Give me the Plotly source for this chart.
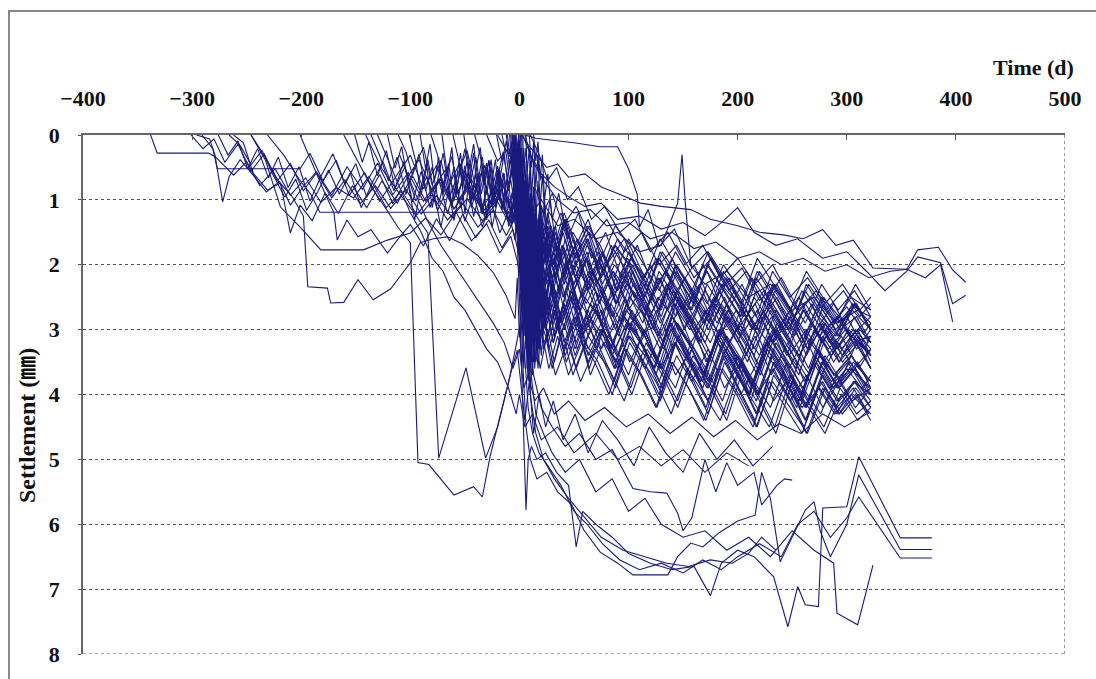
import plotly.graph_objects as go

# ---- data: (day, settlement mm) pairs per monitoring point ----
P01 = [(-338,0),(-332,0.28),(-285,0.28),(-279,0.33),(-262,0.62),(-250,0.41),(-238,0.78),(-224,0.52),(-210,0.93),(-196,0.66),(-182,1.04),(-168,0.81),(-152,0.97),(-138,0.64),(-122,1.12),(-108,0.86),(-94,1.23),(-80,0.92),(-66,1.31),(-52,1.05),(-38,1.42),(-24,1.16),(-12,1.55),(-4,1.28),(-2,1.0),(0,1.7),(1,1.1),(3,2.3),(5,1.5),(7,2.8),(9,1.8),(11,2.5),(13,1.7),(16,2.6),(19,1.9),(24,2.2),(31,1.8),(40,2.5),(52,2.0),(61,2.3),(75,2.9),(88,2.2),(99,2.6),(113,3.1),(127,2.5),(140,2.8),(156,3.4),(170,2.7),(187,3.2),(201,3.6),(215,2.9),(232,3.3),(248,3.9),(263,3.1),(279,3.5),(294,3.8),(309,3.2),(322,3.6)]
P02 = [(-296,0),(-284,0.06),(-279,0.31),(-272,1.03),(-266,0.64),(-256,0.38),(-244,0.62),(-232,0.88),(-220,0.72),(-210,1.08),(-198,0.79),(-186,0.57),(-172,0.93),(-158,0.49),(-144,0.84),(-130,0.43),(-116,0.92),(-102,0.58),(-88,1.02),(-74,0.69),(-60,1.14),(-46,0.77),(-32,1.21),(-18,0.96),(-8,1.35),(-3,0.8),(-1,1.5),(1,0.9),(2,2.1),(4,1.3),(6,2.9),(8,1.7),(10,3.2),(12,2.0),(15,2.8),(18,2.1),(21,2.9),(23,2.6),(29,2.1),(38,2.9),(47,2.4),(60,2.7),(71,3.3),(84,2.6),(97,3.0),(112,2.7),(126,3.5),(139,2.9),(153,3.3),(168,3.8),(182,3.0),(197,3.4),(211,4.0),(226,3.2),(243,3.6),(258,4.1),(271,3.4),(288,3.9),(303,3.5),(320,3.9)]
P03 = [(-291,0),(-281,0.21),(-277,0.52),(-201,0.52),(-192,0.28),(-180,0.71),(-168,0.39),(-156,0.93),(-142,0.58),(-128,1.02),(-114,0.66),(-100,0.31),(-88,0.83),(-76,0.47),(-62,1.04),(-48,0.61),(-34,1.13),(-22,0.79),(-10,1.32),(-4,1.02),(-2,0.7),(0,1.5),(2,0.9),(3,1.9),(5,1.2),(7,2.4),(9,1.4),(12,2.6),(14,1.6),(17,2.2),(20,1.5),(24,1.6),(30,2.2),(39,1.7),(50,2.4),(62,1.9),(73,2.3),(85,2.8),(98,2.1),(110,2.5),(123,3.0),(137,2.3),(151,2.7),(166,3.2),(180,2.6),(194,3.0),(209,3.5),(224,2.8),(240,3.2),(256,3.7),(270,3.0),(286,3.4),(302,3.0),(322,3.4)]
P04 = [(-262,0),(-253,0.12),(-244,0.59),(-231,0.85),(-219,0.74),(-210,1.51),(-201,1.08),(-190,1.32),(-178,0.89),(-166,1.21),(-153,0.78),(-140,1.12),(-126,0.71),(-112,1.05),(-98,0.63),(-86,1.02),(-72,0.68),(-60,1.14),(-46,0.81),(-32,1.23),(-20,0.94),(-8,1.36),(-3,1.12),(-1,1.7),(1,1.0),(2,2.4),(4,1.6),(6,3.1),(8,2.0),(10,3.5),(12,2.3),(15,3.1),(18,2.2),(21,2.9),(25,2.4),(32,3.1),(41,2.6),(53,3.3),(64,2.8),(77,3.1),(90,3.6),(103,2.9),(118,3.4),(131,3.9),(145,3.1),(159,3.6),(173,4.1),(188,3.3),(203,3.8),(217,4.3),(233,3.5),(247,3.9),(262,4.4),(277,3.7),(291,4.1),(307,3.8),(322,4.2)]
P05 = [(-246,0),(-233,0.38),(-219,1.11),(-201,1.42),(-182,1.77),(-143,1.77),(-121,1.62),(-100,1.51),(-86,1.28),(-72,1.54),(-58,1.19),(-44,1.63),(-30,1.37),(-18,1.82),(-8,1.56),(-2,1.94),(0,2.12),(1,1.4),(3,2.8),(5,1.9),(7,3.4),(9,2.3),(11,3.2),(14,2.4),(17,3.3),(20,2.6),(24,3.0),(30,2.6),(40,3.3),(51,2.8),(63,3.5),(75,3.0),(86,3.2),(100,3.7),(114,3.0),(128,3.5),(143,3.9),(157,3.2),(171,3.6),(186,4.1),(200,3.4),(215,3.8),(230,4.2),(245,3.5),(260,3.9),(276,4.3),(291,3.7),(305,4.1),(322,3.9)]
P06 = [(-201,0),(-189,0.48),(-178,0.91),(-170,1.2),(-167,1.62),(-158,1.31),(-148,1.57),(-136,1.46),(-121,1.82),(-112,1.62),(-100,1.38),(-88,1.71),(-76,1.29),(-64,1.63),(-52,1.22),(-40,1.58),(-28,1.31),(-16,1.74),(-6,1.45),(0,1.88),(1,1.2),(3,2.6),(4,1.7),(6,3.2),(8,2.0),(10,2.9),(13,2.1),(16,2.9),(19,2.3),(23,2.7),(28,2.2),(37,2.9),(48,2.4),(58,3.0),(70,2.6),(83,3.3),(96,2.8),(109,3.1),(124,3.6),(138,2.9),(152,3.4),(166,3.8),(181,3.1),(195,3.5),(210,4.0),(224,3.3),(239,3.7),(254,4.2),(269,3.5),(284,3.9),(300,3.6),(318,4.0)]
P07 = [(-231,0),(-216,0.31),(-202,0.68),(-191,0.92),(-183,1.19),(-5,1.19),(0,1.52),(1,0.8),(3,1.9),(5,1.0),(7,2.3),(9,1.3),(11,2.1),(14,1.4),(17,2.0),(20,1.5),(24,1.9),(31,1.5),(40,2.1),(49,1.6),(61,2.2),(72,1.8),(86,2.4),(99,1.9),(113,2.3),(128,2.7),(141,2.1),(156,2.5),(170,2.9),(185,2.3),(200,2.6),(214,3.0),(229,2.4),(244,2.8),(259,3.2),(274,2.6),(290,3.0),(305,2.7),(322,3.0)]
P08 = [(-246,0),(-233,0.34),(-221,0.71),(-209,0.93),(-198,1.25),(-194,2.34),(-176,2.36),(-173,2.59),(-161,2.58),(-148,2.23),(-134,2.54),(-118,2.37),(-100,1.97),(-91,1.66),(-79,1.6),(-66,1.57),(-52,1.68),(-38,1.86),(-24,2.12),(-12,2.48),(-4,2.83),(-2,2.2),(0,3.12),(2,2.5),(4,3.6),(7,2.8),(10,3.9),(14,3.0),(19,3.6),(25,3.1),(33,3.7),(44,3.2),(56,3.8),(69,3.3),(82,3.6),(96,4.1),(110,3.4),(125,3.8),(139,4.3),(154,3.6),(169,4.0),(184,4.4),(199,3.7),(214,4.1),(229,4.5),(244,3.8),(259,4.2),(275,3.9),(291,4.3),(306,3.8),(322,4.0)]
P09 = [(-161,0),(-149,0.38),(-136,0.79),(-123,1.12),(-111,1.43),(-100,1.66),(-93,5.05),(-83,5.08),(-60,5.55),(-42,5.42),(-34,5.58),(-27,4.96),(-8,3.67),(-2,3.32),(2,3.9),(5,4.4),(9,3.8),(13,4.6),(18,4.0),(24,4.5),(31,4.1),(40,4.7),(51,4.3),(63,4.9),(76,4.4),(90,4.7),(105,5.1),(119,4.5),(134,4.9),(150,5.2),(165,4.6),(181,5.0),(197,4.7),(214,5.1),(232,4.8)]
P10 = [(-141,0),(-126,0.52),(-111,0.88),(-96,1.21),(-84,1.51),(-74,4.98),(-49,3.59),(-31,4.98),(-20,4.5),(-10,3.82),(-3,3.24),(0,2.96),(2,3.5),(5,2.8),(8,3.8),(11,3.0),(15,3.5),(20,3.0),(27,3.6),(35,3.1),(45,3.7),(57,3.2),(69,3.5),(82,4.0),(96,3.3),(111,3.7),(125,4.2),(140,3.5),(155,3.9),(171,4.4),(186,3.6),(201,4.0),(217,4.5),(232,3.8),(248,4.2),(264,4.6),(280,3.9),(296,4.3),(310,4.0),(320,4.3)]
P11 = [(-301,0),(-290,0.21),(-280,0.06),(-270,0.42),(-258,0.14),(-246,0.56),(-234,0.29),(-222,0.71),(-210,0.44),(-198,0.86),(-186,0.58),(-172,0.97),(-160,0.69),(-146,1.06),(-132,0.78),(-118,1.13),(-104,0.84),(-90,1.22),(-76,0.93),(-62,1.27),(-48,0.98),(-34,1.32),(-20,1.03),(-8,1.41),(-2,1.14),(0,1.68),(1,1.0),(3,2.4),(5,1.4),(7,2.8),(9,1.7),(11,2.5),(14,1.6),(17,2.4),(19,1.8),(22,2.3),(27,1.8),(36,2.4),(46,1.9),(57,2.5),(68,2.1),(81,2.7),(94,2.2),(107,2.5),(121,3.0),(135,2.3),(149,2.7),(164,3.2),(178,2.5),(193,2.9),(208,3.4),(223,2.7),(238,3.1),(253,3.6),(268,2.9),(283,3.3),(299,3.0),(322,3.4)]
P12 = [(-276,0),(-267,0.31),(-258,0.09),(-249,0.52),(-240,0.21),(-230,0.66),(-221,0.34),(-212,0.81),(-202,0.49),(-192,1.02),(-182,0.64),(-171,0.29),(-160,0.76),(-150,0.44),(-140,0.96),(-128,0.61),(-116,1.06),(-104,0.69),(-92,0.38),(-80,0.86),(-68,0.54),(-56,1.01),(-44,0.68),(-32,1.16),(-20,0.84),(-10,1.31),(-4,1.06),(0,1.38),(1,0.7),(2,1.8),(4,0.9),(6,2.2),(8,1.2),(10,2.6),(12,1.5),(15,2.3),(18,1.5),(21,2.1),(23,1.9),(29,1.4),(38,2.0),(49,1.5),(59,1.8),(71,2.3),(84,1.7),(98,2.1),(111,2.5),(125,1.9),(140,2.3),(154,2.7),(168,2.0),(183,2.4),(198,2.9),(213,2.2),(228,2.6),(243,3.0),(259,2.4),(274,2.8),(290,3.1),(305,2.6),(322,2.9)]
P13 = [(-266,0),(-256,0.16),(-246,0.46),(-236,0.24),(-226,0.61),(-215,0.96),(-205,0.68),(-195,1.16),(-185,0.88),(-175,0.54),(-165,0.91),(-155,0.58),(-145,1.12),(-135,0.74),(-125,0.41),(-115,0.86),(-105,0.49),(-95,1.02),(-85,0.64),(-75,1.16),(-65,0.79),(-55,0.44),(-45,0.92),(-35,0.59),(-25,1.11),(-15,0.78),(-6,1.24),(0,1.58),(2,0.9),(3,2.2),(5,1.3),(7,2.9),(9,1.8),(11,3.1),(14,2.0),(17,2.9),(20,2.2),(24,2.8),(30,2.3),(39,2.9),(50,2.4),(61,3.0),(72,2.6),(85,3.2),(98,2.7),(112,3.0),(126,3.5),(140,2.8),(155,3.2),(170,3.7),(184,3.0),(198,3.4),(213,3.9),(228,3.1),(243,3.5),(258,4.0),(273,3.3),(288,3.7),(304,3.4),(320,3.8)]

M01 = [(-151,0),(-144,0.42),(-138,0.11),(-130,0.63),(-122,0.24),(-114,0.82),(-106,0.41),(-98,1.03),(-90,0.56),(-82,1.12),(-74,0.68),(-66,1.21),(-58,0.79),(-50,1.33),(-42,0.91),(-34,1.42),(-26,1.02),(-18,1.51),(-10,1.18),(-4,1.62),(-2,1.1),(0,1.91),(1,1.2),(3,2.7),(5,1.8),(7,3.3),(9,2.1),(11,3.0),(14,2.2),(17,3.1),(20,2.4),(24,2.9),(30,2.4),(38,3.1),(49,2.5),(60,3.2),(72,2.7),(85,3.4),(98,2.9),(111,3.2),(125,3.7),(139,3.0),(153,3.4),(168,3.9),(182,3.2),(197,3.6),(212,4.1),(227,3.3),(242,3.7),(257,4.2),(272,3.5),(287,3.9),(303,3.6),(322,3.9)]
M02 = [(-136,0),(-128,0.32),(-120,0.71),(-112,0.34),(-104,0.92),(-96,0.48),(-88,0.19),(-80,0.77),(-72,0.39),(-64,0.96),(-56,0.58),(-48,0.24),(-40,0.82),(-32,0.47),(-24,1.01),(-16,0.68),(-8,1.17),(-3,0.88),(-1,0.5),(0,1.22),(2,0.6),(3,1.6),(5,0.9),(7,2.0),(9,1.1),(11,2.3),(13,1.3),(16,2.0),(19,1.3),(22,1.8),(26,1.4),(33,1.9),(42,1.3),(53,1.8),(64,1.5),(77,2.1),(90,1.6),(103,1.9),(117,2.4),(131,1.8),(146,2.2),(160,2.6),(175,1.9),(190,2.3),(205,2.8),(220,2.1),(235,2.5),(250,2.9),(265,2.3),(281,2.7),(297,2.4),(312,2.8),(322,2.6)]
M03 = [(-121,0),(-114,0.51),(-108,0.18),(-102,0.72),(-96,1.31),(-90,0.79),(-84,0.38),(-78,0.91),(-72,1.42),(-66,0.94),(-60,0.49),(-54,1.12),(-48,0.68),(-42,1.26),(-36,0.84),(-30,0.43),(-24,1.02),(-18,0.63),(-12,1.21),(-6,0.88),(-2,1.36),(0,1.52),(1,0.9),(2,2.2),(4,1.5),(6,3.0),(8,1.9),(10,3.3),(12,2.2),(15,3.0),(18,2.3),(21,3.1),(25,2.6),(31,3.2),(40,2.7),(51,3.4),(62,2.9),(74,3.3),(87,3.8),(100,3.1),(114,3.5),(128,4.0),(142,3.2),(157,3.7),(171,4.2),(186,3.4),(201,3.9),(216,4.4),(231,3.6),(246,4.0),(261,4.5),(276,3.8),(291,4.2),(306,3.9),(320,4.3)]
M04 = [(-111,0),(-104,0.26),(-98,0.62),(-92,0.29),(-86,0.86),(-80,0.49),(-74,1.06),(-68,0.64),(-62,0.33),(-56,0.91),(-50,0.54),(-44,1.12),(-38,0.74),(-32,1.26),(-26,0.89),(-20,0.48),(-14,1.01),(-8,0.69),(-3,1.22),(-1,0.7),(0,1.41),(2,0.9),(3,2.0),(5,1.3),(7,2.6),(9,1.6),(11,2.9),(13,1.9),(16,2.7),(19,1.9),(22,2.5),(26,2.1),(33,2.6),(43,2.0),(54,2.7),(65,2.2),(78,2.5),(91,3.0),(104,2.3),(118,2.7),(132,3.2),(146,2.5),(161,2.9),(176,3.4),(191,2.7),(206,3.1),(221,3.6),(236,2.9),(251,3.3),(266,3.7),(281,3.0),(296,3.4),(311,3.1),(322,3.5)]
M05 = [(-101,0),(-95,0.41),(-90,0.92),(-85,0.48),(-80,1.12),(-75,0.69),(-70,0.28),(-65,0.81),(-60,1.32),(-55,0.88),(-50,0.47),(-45,1.02),(-40,0.59),(-35,1.21),(-30,0.79),(-25,1.42),(-20,0.98),(-15,0.58),(-10,1.12),(-5,0.77),(-2,1.31),(0,0.98),(1,1.6),(2,0.8),(4,2.1),(6,1.2),(8,2.5),(10,1.5),(12,2.3),(15,1.5),(18,2.2),(21,1.6),(25,1.9),(31,2.4),(40,1.8),(50,2.3),(61,1.9),(73,2.6),(86,2.1),(99,2.4),(113,2.9),(127,2.2),(141,2.6),(156,3.0),(170,2.4),(185,2.8),(200,3.2),(215,2.5),(230,2.9),(245,3.4),(260,2.7),(275,3.1),(291,2.8),(306,3.2),(322,3.1)]
M06 = [(-91,0),(-86,0.52),(-82,0.14),(-78,0.71),(-74,0.34),(-70,0.92),(-66,0.49),(-62,1.12),(-58,0.69),(-54,0.28),(-50,0.86),(-46,0.44),(-42,1.02),(-38,0.59),(-34,1.22),(-30,0.79),(-26,0.38),(-22,0.96),(-18,0.54),(-14,1.12),(-10,0.74),(-6,1.32),(-3,0.94),(-1,1.6),(0,1.0),(2,2.4),(3,1.5),(5,3.1),(7,2.1),(9,3.5),(11,2.5),(13,3.3),(16,2.5),(19,3.2),(22,2.7),(26,3.2),(33,2.8),(42,3.4),(53,2.9),(64,3.6),(76,3.0),(89,3.4),(102,3.9),(116,3.2),(130,3.6),(145,4.1),(159,3.4),(174,3.8),(189,4.3),(204,3.5),(219,4.0),(234,4.5),(249,3.7),(264,4.1),(279,4.5),(294,3.9),(309,4.3),(322,4.1)]
M07 = [(-81,0),(-75,0.31),(-70,0.82),(-65,0.44),(-60,1.02),(-55,0.59),(-50,0.21),(-45,0.72),(-40,0.34),(-35,0.91),(-30,0.49),(-25,1.06),(-20,0.64),(-15,0.26),(-10,0.76),(-5,0.41),(-2,0.92),(0,0.61),(1,1.2),(2,0.5),(4,1.5),(5,0.8),(7,1.9),(9,1.0),(11,1.8),(13,1.1),(16,1.7),(19,1.1),(22,1.6),(26,1.3),(32,1.8),(41,1.3),(51,1.9),(62,1.4),(74,1.7),(87,2.2),(100,1.6),(114,2.0),(128,2.4),(143,1.8),(157,2.2),(172,2.6),(187,2.0),(202,2.4),(217,2.8),(232,2.1),(247,2.5),(262,2.9),(277,2.3),(292,2.7),(307,2.4),(322,2.8)]
M08 = [(-71,0),(-66,0.62),(-62,0.19),(-58,0.92),(-54,0.44),(-50,1.22),(-46,0.69),(-42,0.28),(-38,0.96),(-34,0.49),(-30,1.31),(-26,0.79),(-22,0.38),(-18,1.02),(-14,0.59),(-10,1.41),(-6,0.88),(-3,1.52),(-1,0.9),(0,1.18),(1,2.0),(3,1.3),(4,2.7),(6,1.8),(8,3.2),(10,2.2),(12,3.0),(14,2.1),(17,2.9),(20,2.2),(24,2.8),(29,2.4),(37,3.0),(47,2.5),(58,3.1),(70,2.7),(83,3.3),(96,2.8),(109,3.1),(123,3.6),(137,2.9),(152,3.3),(166,3.8),(181,3.1),(196,3.5),(211,4.0),(226,3.2),(241,3.6),(256,4.1),(271,3.4),(286,3.8),(301,3.5),(315,3.9),(322,3.7)]
M09 = [(-61,0),(-56,0.36),(-52,0.82),(-48,0.39),(-44,1.02),(-40,0.54),(-36,0.19),(-32,0.76),(-28,0.39),(-24,0.96),(-20,0.58),(-16,1.16),(-12,0.74),(-8,0.34),(-4,0.91),(-1,0.59),(0,1.02),(1,0.5),(2,1.5),(4,0.8),(6,1.9),(8,1.1),(10,2.2),(12,1.3),(15,2.0),(18,1.3),(21,1.9),(25,1.6),(31,2.1),(40,1.5),(51,2.2),(62,1.7),(74,2.0),(87,2.5),(100,1.8),(114,2.2),(128,2.7),(143,2.0),(157,2.4),(172,2.8),(187,2.1),(202,2.5),(217,3.0),(232,2.3),(247,2.7),(262,3.1),(277,2.5),(292,2.9),(307,2.6),(322,3.0)]
M10 = [(-51,0),(-46,0.52),(-42,0.14),(-38,0.72),(-34,0.34),(-30,0.92),(-26,0.49),(-22,1.12),(-18,0.69),(-14,0.29),(-10,0.86),(-6,0.49),(-3,1.02),(-1,0.6),(0,0.78),(1,1.5),(3,0.9),(4,2.1),(6,1.4),(8,2.6),(10,1.7),(12,2.9),(14,2.0),(17,2.7),(20,2.0),(23,2.6),(27,2.2),(34,2.7),(43,2.1),(54,2.8),(65,2.3),(78,2.6),(91,3.1),(104,2.4),(118,2.8),(132,3.3),(147,2.6),(161,3.0),(176,3.5),(191,2.8),(206,3.2),(221,3.7),(236,3.0),(251,3.4),(266,3.8),(281,3.1),(296,3.5),(311,3.2),(322,3.6)]
M11 = [(-41,0),(-36,0.31),(-32,0.77),(-28,0.39),(-24,0.96),(-20,0.54),(-16,1.12),(-12,0.69),(-8,1.27),(-4,0.84),(-1,1.32),(0,1.62),(1,2.4),(2,1.6),(4,3.1),(5,2.2),(7,3.6),(9,2.6),(11,3.4),(13,2.5),(16,3.4),(19,2.7),(22,3.3),(26,3.0),(32,3.5),(41,2.9),(52,3.6),(63,3.1),(75,3.4),(88,3.9),(101,3.2),(115,3.6),(129,4.1),(144,3.4),(158,3.8),(173,4.3),(188,3.5),(203,4.0),(218,4.5),(233,3.7),(248,4.1),(263,4.6),(278,3.9),(293,4.3),(308,4.0),(322,4.4)]

L01 = [(-21,0),(-16,0.41),(-12,0.09),(-8,0.62),(-4,0.28),(-2,0.9),(0,0.4),(1,1.1),(3,0.6),(4,1.6),(6,0.9),(8,2.1),(10,1.3),(12,2.4),(15,1.6),(18,2.5),(21,1.9),(25,2.3),(31,1.9),(40,2.5),(50,2.0),(61,2.6),(73,2.2),(86,2.8),(99,2.3),(113,2.6),(127,3.1),(141,2.4),(156,2.8),(170,3.2),(185,2.6),(200,3.0),(215,3.4),(230,2.7),(245,3.1),(260,3.5),(275,2.9),(290,3.3),(306,3.0),(322,3.4)]
L02 = [(-16,0),(-12,0.31),(-9,0.72),(-6,0.34),(-4,1.1),(-2,0.6),(0,1.5),(1,0.8),(3,2.2),(4,1.4),(6,2.9),(8,1.9),(10,3.3),(12,2.3),(15,3.1),(18,2.4),(21,3.0),(25,2.7),(31,3.2),(40,2.6),(51,3.3),(62,2.8),(74,3.1),(87,3.6),(100,2.9),(114,3.3),(128,3.8),(143,3.1),(157,3.5),(172,3.9),(187,3.2),(202,3.6),(217,4.1),(232,3.4),(247,3.8),(262,4.2),(277,3.5),(292,3.9),(307,3.6),(320,4.0)]
L03 = [(-11,0),(-9,0.3),(-7,0.1),(-5,0.6),(-3,0.2),(-1,0.9),(0,0.4),(2,1.3),(3,0.6),(5,1.7),(7,0.9),(9,2.0),(11,1.2),(13,2.2),(16,1.4),(19,2.1),(22,1.5),(26,1.9),(33,1.5),(42,2.1),(53,1.6),(64,2.2),(76,1.8),(89,2.4),(102,1.9),(116,2.2),(130,2.7),(144,2.0),(159,2.4),(174,2.8),(189,2.2),(204,2.6),(219,3.0),(234,2.3),(249,2.7),(264,3.1),(279,2.5),(294,2.9),(309,2.6),(322,3.0)]
L04 = [(-9,0),(-7,0.5),(-5,0.2),(-3,0.8),(-1,0.3),(0,1.2),(1,0.6),(3,1.8),(4,1.1),(6,2.5),(8,1.5),(10,2.9),(12,1.9),(14,2.8),(17,2.0),(20,2.7),(24,2.4),(30,2.9),(39,2.3),(49,3.0),(60,2.5),(72,2.8),(85,3.3),(98,2.6),(112,3.0),(126,3.5),(140,2.8),(155,3.2),(169,3.7),(184,3.0),(199,3.4),(214,3.9),(229,3.1),(244,3.5),(259,4.0),(274,3.3),(289,3.7),(304,3.4),(322,3.8)]
L05 = [(-7,0),(-5,0.3),(-3,0.7),(-1,0.2),(0,0.9),(2,0.4),(3,1.3),(5,0.7),(7,1.7),(9,1.0),(11,1.9),(13,1.2),(16,2.0),(19,1.3),(22,1.8),(26,1.5),(32,2.0),(41,1.4),(52,1.9),(63,1.5),(75,2.2),(88,1.7),(101,2.0),(115,2.5),(129,1.8),(143,2.2),(158,2.7),(173,2.0),(188,2.4),(203,2.8),(218,2.1),(233,2.5),(248,3.0),(263,2.3),(278,2.7),(293,3.1),(308,2.6),(322,3.0)]
L06 = [(-6,0),(-4,0.6),(-2,0.2),(-1,1.0),(0,0.5),(1,1.7),(2,1.0),(4,2.6),(5,1.6),(7,3.2),(9,2.2),(11,3.5),(13,2.5),(16,3.3),(19,2.6),(22,3.2),(26,3.1),(32,2.7),(41,3.3),(52,2.8),(63,3.4),(75,3.0),(88,3.6),(101,3.1),(115,3.4),(129,3.9),(143,3.2),(158,3.6),(173,4.1),(188,3.4),(203,3.8),(218,4.3),(233,3.5),(248,3.9),(263,4.4),(278,3.7),(293,4.1),(308,3.8),(322,4.1)]
L07 = [(-5,0),(-3,0.3),(-1,0.05),(0,0.5),(2,0.2),(3,0.9),(5,0.4),(7,1.3),(9,0.6),(11,1.5),(13,0.8),(16,1.6),(19,1.0),(22,1.5),(26,1.2),(32,1.7),(41,1.2),(52,1.7),(63,1.3),(75,1.9),(88,1.4),(101,1.7),(115,2.2),(129,1.6),(143,2.0),(158,2.4),(173,1.8),(188,2.2),(203,2.6),(218,1.9),(233,2.3),(248,2.7),(263,2.1),(278,2.5),(293,2.8),(308,2.3),(322,2.7)]
L08 = [(-4,0),(-2,0.7),(-1,0.3),(0,1.3),(1,0.8),(2,2.1),(3,1.4),(5,2.9),(6,2.0),(8,3.6),(10,2.6),(12,3.7),(14,2.8),(17,3.6),(20,2.9),(24,3.1),(30,3.6),(39,3.0),(49,3.7),(60,3.2),(72,3.5),(85,4.0),(98,3.3),(112,3.7),(126,4.2),(140,3.5),(155,3.9),(169,4.4),(184,3.6),(199,4.0),(214,4.5),(229,3.8),(244,4.2),(259,4.6),(274,3.9),(289,4.3),(304,4.0),(322,4.3)]
L09 = [(-3,0),(-1,0.4),(0,0.1),(1,0.8),(2,0.3),(4,1.3),(5,0.7),(7,1.7),(9,1.0),(11,2.0),(13,1.3),(16,2.1),(19,1.4),(22,2.0),(26,1.7),(33,2.2),(42,1.6),(53,2.3),(64,1.8),(76,2.1),(89,2.6),(102,1.9),(116,2.3),(130,2.8),(144,2.1),(159,2.5),(174,2.9),(189,2.3),(204,2.7),(219,3.1),(234,2.4),(249,2.8),(264,3.3),(279,2.6),(294,3.0),(309,2.8),(322,3.2)]
L10 = [(-1,0),(0,0.6),(1,0.2),(2,1.2),(3,0.6),(5,1.9),(6,1.1),(8,2.6),(10,1.7),(12,3.0),(14,2.0),(17,2.9),(20,2.2),(23,2.8),(27,2.5),(34,3.0),(43,2.4),(54,3.1),(65,2.6),(77,2.9),(90,3.4),(103,2.7),(117,3.1),(131,3.6),(145,2.9),(160,3.3),(175,3.8),(190,3.1),(205,3.5),(220,4.0),(235,3.2),(250,3.6),(265,4.1),(280,3.4),(295,3.8),(310,3.5),(322,3.9)]
L11 = [(-6,0),(-4,0.4),(-2,1.0),(0,0.5),(1,1.5),(3,0.8),(5,2.2),(7,1.3),(9,2.7),(11,1.8),(13,3.0),(16,2.1),(19,2.8),(22,2.2),(26,2.6),(32,2.1),(41,2.7),(52,2.2),(63,2.8),(75,2.4),(88,3.0),(101,2.5),(115,2.8),(129,3.3),(143,2.6),(158,3.0),(173,3.5),(188,2.8),(203,3.2),(218,3.7),(233,3.0),(248,3.4),(263,3.8),(278,3.1),(293,3.5),(308,3.2),(322,3.6)]
L12 = [(0,0),(1,0.8),(2,0.3),(4,1.4),(5,0.7),(7,1.8),(9,1.0),(11,2.2),(13,1.3),(15,2.3),(18,1.5),(21,2.1),(25,1.8),(31,2.3),(40,1.7),(51,2.2),(62,1.8),(74,2.5),(87,2.0),(100,2.3),(114,2.8),(128,2.1),(142,2.5),(157,2.9),(172,2.3),(187,2.7),(202,3.1),(217,2.4),(232,2.8),(247,3.2),(262,2.6),(277,3.0),(292,3.3),(307,2.8),(320,3.2)]
L13 = [(1,0),(2,1.0),(3,0.4),(5,1.8),(6,1.0),(8,2.5),(10,1.6),(12,3.0),(14,2.0),(16,3.2),(19,2.3),(22,3.0),(26,2.8),(32,2.4),(41,3.0),(52,2.5),(63,3.1),(75,2.7),(88,3.3),(101,2.8),(115,3.1),(129,3.6),(143,2.9),(158,3.3),(173,3.8),(188,3.1),(203,3.5),(218,4.0),(233,3.3),(248,3.7),(263,4.2),(278,3.5),(293,3.9),(308,3.6),(322,4.0)]
L14 = [(2,0),(3,0.6),(4,0.2),(6,1.2),(7,0.6),(9,1.7),(11,0.9),(13,2.1),(15,1.3),(17,2.4),(20,1.6),(23,2.3),(27,2.0),(34,2.5),(43,1.9),(54,2.6),(65,2.1),(77,2.4),(90,2.9),(103,2.2),(117,2.6),(131,3.1),(145,2.4),(160,2.8),(175,3.2),(190,2.6),(205,3.0),(220,3.4),(235,2.7),(250,3.1),(265,3.6),(280,2.9),(295,3.3),(310,3.0),(322,3.4)]
L15 = [(-5,0),(-3,0.8),(-1,0.3),(0,1.2),(1,0.6),(3,2.0),(4,1.2),(6,2.8),(8,1.9),(10,3.4),(12,2.4),(14,3.6),(17,2.7),(20,3.4),(23,2.8),(27,3.3),(34,2.9),(43,3.5),(54,3.0),(65,3.7),(77,3.2),(90,3.5),(103,4.0),(117,3.3),(131,3.7),(145,4.2),(160,3.5),(175,3.9),(190,4.4),(205,3.6),(220,4.1),(235,4.6),(250,3.8),(265,4.2),(280,4.6),(295,4.0),(310,4.4),(322,4.2)]
L16 = [(-12,0),(-9,0.5),(-6,0.2),(-4,0.8),(-2,0.3),(0,1.0),(2,0.4),(4,1.3),(6,0.7),(8,1.7),(10,0.9),(12,1.9),(15,1.1),(18,1.9),(21,1.3),(25,1.6),(31,2.0),(40,1.4),(51,2.0),(62,1.6),(74,2.2),(87,1.7),(100,2.0),(114,2.5),(128,1.9),(142,2.3),(157,2.7),(172,2.0),(187,2.4),(202,2.8),(217,2.2),(232,2.6),(247,3.0),(262,2.4),(277,2.8),(292,3.1),(307,2.6),(322,3.0)]
L17 = [(-6,0),(-5,0.5),(-3,0.1),(-2,0.7),(0,0.2),(1,0.9),(3,0.4),(4,1.2),(6,0.6),(8,1.5),(10,0.9),(12,1.7),(15,1.1),(18,1.9),(21,1.4),(25,2.0),(31,1.5),(40,2.1),(51,1.7),(63,2.3),(76,1.8),(90,2.4),(104,2.0),(119,2.6),(134,2.1),(149,2.7),(165,2.3),(181,2.9),(197,2.4),(213,3.0),(229,2.6),(245,3.1),(261,2.7),(277,3.2),(293,2.8),(309,3.3),(322,3.0)]
L18 = [(3,0),(4,0.5),(6,0.2),(8,1.0),(10,0.4),(12,1.4),(14,0.8),(16,1.8),(19,1.1),(22,2.0),(26,1.5),(32,2.2),(40,1.7),(50,2.4),(61,1.9),(73,2.6),(86,2.1),(100,2.7),(114,2.3),(129,2.9),(144,2.4),(160,3.0),(176,2.6),(192,3.2),(208,2.7),(224,3.3),(240,2.9),(256,3.4),(272,3.0),(288,3.5),(304,3.1),(322,3.4)]
L19 = [(-4,0),(-3,0.9),(-2,0.4),(0,1.6),(1,0.9),(2,2.3),(4,1.5),(5,3.0),(7,2.1),(9,3.4),(11,2.4),(13,3.5),(16,2.6),(19,3.3),(22,2.6),(26,3.1),(32,2.6),(41,3.2),(52,2.7),(63,3.3),(75,2.9),(88,3.5),(101,3.0),(115,3.6),(129,3.1),(143,3.7),(158,3.3),(173,3.9),(188,3.4),(203,4.0),(218,3.5),(233,4.1),(248,3.7),(263,4.2),(278,3.8),(293,4.3),(308,3.9),(322,4.2)]
L20 = [(-8,0),(-6,0.4),(-4,0.9),(-2,0.4),(-1,1.2),(1,0.7),(2,1.8),(4,1.0),(6,2.3),(8,1.4),(10,2.7),(12,1.8),(15,2.6),(18,1.9),(21,2.5),(25,2.0),(31,2.6),(40,2.1),(51,2.7),(62,2.2),(74,2.8),(87,2.4),(100,3.0),(114,2.5),(128,3.1),(142,2.6),(157,3.2),(172,2.8),(187,3.4),(202,2.9),(217,3.5),(232,3.0),(247,3.6),(262,3.1),(277,3.7),(292,3.2),(307,3.6),(322,3.3)]
L21 = [(6,0),(7,0.6),(9,0.2),(11,1.0),(13,0.4),(15,1.3),(17,0.7),(20,1.6),(23,1.0),(27,1.9),(33,1.4),(41,2.2),(51,1.7),(62,2.4),(75,1.9),(89,2.6),(104,2.1),(119,2.8),(135,2.3),(151,3.0),(167,2.5),(183,3.1),(199,2.7),(215,3.3),(231,2.8),(247,3.4),(263,3.0),(279,3.5),(295,3.1),(311,3.6),(322,3.3)]
L22 = [(9,0),(11,0.5),(13,0.1),(15,0.8),(17,0.3),(19,1.1),(21,0.6),(24,1.5),(28,1.0),(34,1.8),(42,1.3),(52,2.0),(63,1.6),(76,2.3),(90,1.8),(105,2.5),(120,2.0),(136,2.7),(152,2.2),(168,2.9),(184,2.4),(200,3.0),(216,2.6),(232,3.2),(248,2.7),(264,3.3),(280,2.9),(296,3.4),(312,3.0),(322,3.2)]
L23 = [(13,0),(15,0.4),(17,0.1),(19,0.7),(21,0.3),(23,1.0),(26,0.6),(30,1.3),(36,0.9),(44,1.6),(54,1.2),(66,1.9),(79,1.5),(93,2.2),(108,1.7),(124,2.4),(140,1.9),(156,2.6),(172,2.1),(188,2.8),(204,2.3),(220,2.9),(236,2.5),(252,3.1),(268,2.6),(284,3.2),(300,2.8),(316,3.3),(322,3.1)]
L24 = [(-7,0.2),(-5,1.0),(-3,0.5),(-1,1.8),(1,1.1),(2,2.6),(4,1.7),(6,3.3),(8,2.3),(10,3.6),(12,2.6),(14,3.4),(16,2.4),(18,3.2),(20,2.3),(22,3.0),(26,2.5),(32,3.1),(41,2.6),(52,3.2),(63,2.7),(75,3.3),(88,2.9),(101,3.5),(115,3.0),(129,3.6),(143,3.2),(158,3.8),(173,3.3),(188,3.9),(203,3.5),(218,4.0),(233,3.6),(248,4.1),(263,3.7),(278,4.2),(293,3.8),(308,4.2),(322,3.9)]
L25 = [(-6,0.1),(-4,0.7),(-2,0.3),(0,1.1),(2,0.5),(4,1.6),(6,0.9),(8,2.0),(10,1.2),(13,2.3),(16,1.5),(19,2.4),(22,1.7),(26,2.2),(32,1.7),(41,2.3),(52,1.8),(63,2.4),(75,2.0),(88,2.6),(101,2.1),(115,2.7),(129,2.2),(143,2.8),(158,2.4),(173,3.0),(188,2.5),(203,3.1),(218,2.7),(233,3.2),(248,2.8),(263,3.4),(278,2.9),(293,3.5),(308,3.0),(322,3.3)]
L26 = [(-5,0.4),(-3,1.4),(-1,0.8),(1,2.1),(3,1.3),(5,2.9),(7,1.9),(9,3.4),(11,2.3),(13,3.1),(15,2.1),(18,2.9),(21,2.0),(24,2.7),(29,2.1),(37,2.8),(47,2.2),(58,2.9),(70,2.4),(83,3.0),(97,2.5),(111,3.2),(126,2.7),(141,3.3),(156,2.8),(171,3.5),(186,3.0),(201,3.6),(216,3.1),(231,3.7),(246,3.2),(261,3.8),(276,3.4),(291,3.9),(306,3.5),(322,3.8)]

U01 = [(5,0),(15,0.05),(30,0.08),(50,0.12),(74,0.18),(90,0.18),(100,0.52),(108,0.92),(110,1.42),(118,1.15),(128,1.72),(142,1.45),(158,2.05),(172,1.8),(188,2.32),(204,2.05),(220,2.55),(236,2.3),(252,2.8),(268,2.5),(284,2.95),(300,2.65),(316,3.05),(322,2.9)]
E01 = [(2,0),(8,0.15),(15,0.3),(25,0.5),(35,0.45),(45,0.65),(60,0.6),(75,0.8),(90,0.9),(111,1.05),(130,1.1),(157,1.15),(175,1.3),(200,1.4),(220,1.5),(242,1.54),(260,1.6),(278,1.46),(290,1.7),(306,1.62),(324,2.05),(355,2.07),(365,1.77),(384,1.73),(397,2.08),(409,2.27)]
E02 = [(3,0),(10,0.3),(20,0.6),(32,0.8),(45,0.95),(60,1.1),(75,1.05),(90,1.3),(110,1.25),(130,1.45),(150,1.35),(170,1.55),(185,1.35),(200,1.12),(215,1.5),(235,1.7),(255,1.6),(278,1.9),(300,1.8),(318,2.1),(335,2.4),(355,2.1),(365,1.88),(386,1.97),(397,2.6),(409,2.47)]
E03 = [(5,0),(12,0.4),(22,0.7),(35,1.0),(50,1.2),(65,1.15),(80,1.4),(100,1.35),(120,1.6),(140,1.5),(160,1.75),(180,1.65),(200,1.9),(220,1.8),(240,2.0),(260,1.9),(280,2.1),(300,2.0),(320,2.2),(340,2.1),(355,2.07),(372,2.2),(386,2.0),(397,2.88)]
K01 = [(-5,0),(0,0.3),(5,0.8),(12,1.2),(20,1.0),(35,1.4),(50,1.3),(70,1.6),(90,1.5),(110,1.8),(130,1.7),(145,1.05),(149,0.3),(152,1.05),(157,2.0),(170,2.3),(190,2.1),(210,2.5),(230,2.3),(250,2.7),(270,2.5),(290,2.9),(310,2.7),(322,2.8)]
H01 = [(-20,0),(-10,0.3),(0,0.5),(8,1.4),(14,0.8),(22,1.2),(30,0.9),(40,1.4),(52,1.1),(66,1.6),(80,1.3),(96,1.8),(112,1.5),(128,2.0),(144,1.7),(160,2.2),(176,1.9),(192,2.4),(208,2.1),(224,2.6),(240,2.2),(256,2.7),(272,2.4),(288,2.9),(304,2.5),(322,2.7)]
H02 = [(10,0),(18,0.3),(26,0.7),(34,0.5),(44,1.0),(54,0.8),(66,1.3),(78,1.1),(92,1.5),(106,1.3),(120,1.8),(136,1.5),(152,2.0),(168,1.7),(184,2.2),(200,1.9),(216,2.3),(232,2.0),(248,2.5),(264,2.2),(280,2.6),(296,2.3),(312,2.7),(322,2.5)]
H03 = [(-30,0),(-20,0.4),(-10,0.2),(0,0.7),(4,1.3),(8,0.9),(14,1.5),(20,1.1),(28,1.6),(38,1.2),(50,1.8),(64,1.4),(80,2.0),(96,1.6),(112,2.2),(128,1.9),(144,2.4),(160,2.0),(176,2.6),(192,2.2),(208,2.8),(224,2.4),(240,2.9),(256,2.5),(272,3.0),(288,2.6),(304,3.1),(322,2.8)]

Z01 = [(-8,0.3),(-3,1.2),(0,2.5),(2,3.6),(4,4.6),(6,5.78),(8,5.0),(11,4.8),(16,5.0),(24,4.9),(34,5.2),(45,5.4),(52,6.35),(58,5.8),(70,6.0),(85,6.2),(100,6.45),(120,6.6),(140,6.7),(160,6.65),(175,7.1),(185,6.6),(200,6.4),(215,6.5),(233,6.81),(246,7.58),(255,6.96),(262,7.24),(274,7.27),(278,5.75),(300,5.73),(311,4.96),(349,6.21),(378,6.21)]
Z02 = [(-5,0.5),(0,2.0),(3,3.5),(6,4.5),(10,5.0),(16,5.3),(25,5.2),(35,5.5),(48,5.7),(59,6.09),(74,6.43),(90,6.6),(104,6.78),(136,6.78),(145,6.5),(157,6.29),(168,6.35),(183,6.13),(200,5.95),(216,5.86),(222,5.2),(230,5.6),(239,6.58),(262,5.78),(270,5.65),(276,6.12),(285,6.5),(300,6.0),(311,5.24),(349,6.39),(378,6.39)]
Z03 = [(-3,0.6),(0,1.8),(4,3.2),(8,4.2),(12,4.6),(18,4.9),(26,5.1),(38,5.4),(50,5.8),(62,6.0),(76,6.3),(92,6.55),(110,6.7),(130,6.6),(150,6.75),(168,6.55),(185,6.7),(200,6.5),(220,6.3),(240,6.5),(255,6.0),(270,5.8),(285,6.2),(300,5.9),(311,5.58),(349,6.52),(378,6.52)]
Z04 = [(0,1.0),(5,2.5),(10,3.6),(15,4.3),(22,4.6),(30,4.9),(42,5.2),(55,5.0),(70,5.5),(85,5.3),(100,5.8),(115,5.6),(130,6.0),(150,6.2),(170,6.1),(190,6.4),(210,6.2),(230,6.5),(250,6.1),(270,6.4),(288,6.6),(291,7.37),(310,7.55),(324,6.63)]
Z05 = [(0,0.8),(4,2.0),(8,3.0),(13,3.7),(20,4.2),(30,4.5),(42,4.8),(55,4.6),(70,5.0),(85,4.85),(104,5.45),(120,5.5),(135,5.52),(145,5.83),(150,6.1),(158,5.9),(170,5.0),(180,5.5),(190,5.05),(200,5.4),(215,5.2),(222,5.7),(236,5.4),(243,5.3),(250,5.32)]
Z06 = [(2,1.0),(6,2.8),(10,4.0),(15,4.6),(22,5.0),(32,5.3),(45,5.6),(60,5.9),(75,6.2),(95,6.4),(115,6.5),(135,6.6),(155,6.65),(175,6.55),(195,6.6),(210,6.45),(222,6.2),(235,6.4)]
D01 = [(-130,0),(-115,0.6),(-100,1.2),(-90,1.5),(-80,1.9),(-70,2.1),(-60,2.5),(-50,2.7),(-40,3.0),(-30,3.3),(-20,3.5),(-10,3.9),(-3,4.3),(0,4.0),(5,4.5),(12,4.3),(20,4.7),(35,4.5),(50,4.9),(70,4.6),(90,5.0),(110,4.8),(130,5.1),(150,4.85),(170,5.2),(190,4.9),(210,5.1)]
D02 = [(-110,0.3),(-98,0.8),(-85,1.3),(-72,1.7),(-60,2.0),(-48,2.3),(-36,2.6),(-24,2.9),(-14,3.2),(-6,3.6),(0,3.3),(4,3.9),(8,3.7),(14,4.1),(22,3.9),(32,4.3),(45,4.1),(60,4.4),(78,4.2),(98,4.5),(118,4.3),(138,4.6),(158,4.35),(178,4.65),(198,4.4),(218,4.7),(238,4.45),(258,4.6),(278,4.3),(298,4.5),(318,4.3)]

SERIES = [P01, P02, P03, P04, P05, P06, P07, P08, P09, P10, P11, P12, P13,
          M01, M02, M03, M04, M05, M06, M07, M08, M09, M10, M11,
          L01, L02, L03, L04, L05, L06, L07, L08, L09, L10,
          L11, L12, L13, L14, L15, L16, L17, L18, L19, L20,
          L21, L22, L23, L24, L25, L26,
          U01, E01, E02, E03, K01, H01, H02, H03,
          Z01, Z02, Z03, Z04, Z05, Z06, D01, D02]

X_TICKS = [-400, -300, -200, -100, 0, 100, 200, 300, 400, 500]
Y_TICKS = [0, 1, 2, 3, 4, 5, 6, 7, 8]

NAVY = "#1a1a7e"
SERIF = "Liberation Serif, Noto Sans CJK JP, serif"

fig = go.Figure()
for pts in SERIES:
    fig.add_trace(go.Scatter(
        x=[p[0] for p in pts], y=[p[1] for p in pts],
        mode="lines", line=dict(color=NAVY, width=1.1),
        showlegend=False, hoverinfo="skip"))

L, R, T, B = 83, 31, 135, 25
W, H = 1096, 679
pw, ph = W - L - R, H - T - B

def px(xp):
    return (xp - L) / pw

def py(yp):
    return (H - B - yp) / ph

fig.update_layout(
    width=W, height=H,
    margin=dict(l=L, r=R, t=T, b=B, pad=0),
    paper_bgcolor="white", plot_bgcolor="white",
    xaxis=dict(side="top", range=[-400, 500], tickvals=X_TICKS,
               ticks="inside", ticklen=5, tickcolor="#555",
               showline=True, linecolor="#666", linewidth=1.5,
               showgrid=False, zeroline=False,
               tickfont=dict(family=SERIF, size=22, color="#111", weight="bold"),
               ticklabelstandoff=18),
    yaxis=dict(range=[8, 0], tickvals=Y_TICKS,
               ticks="outside", ticklen=3, tickcolor="#555",
               showline=True, linecolor="#666", linewidth=1.5,
               showgrid=True, gridcolor="#555", gridwidth=1.2, griddash="3px,3px",
               zeroline=False,
               tickfont=dict(family=SERIF, size=22, color="#111", weight="bold"),
               ticklabelstandoff=14),
    shapes=[
        dict(type="line", xref="x", yref="y", x0=500, x1=500, y0=0, y1=8,
             line=dict(color="#555", width=1.2, dash="3px,3px")),
        dict(type="line", xref="x", yref="y", x0=-400, x1=500, y0=8, y1=8,
             line=dict(color="#555", width=1.2, dash="3px,3px")),
        dict(type="rect", xref="paper", yref="paper",
             x0=px(9), x1=px(1105), y0=py(690), y1=py(11),
             line=dict(color="#888", width=2), fillcolor="rgba(0,0,0,0)"),
    ],
    annotations=[
        dict(text="Time (d)", xref="paper", yref="paper", x=px(1033), y=py(68),
             showarrow=False, xanchor="center", yanchor="middle",
             font=dict(family=SERIF, size=22, color="#111", weight="bold")),
        dict(text="Settlement (㎜)", xref="paper", yref="paper", x=px(27), y=py(426),
             showarrow=False, xanchor="center", yanchor="middle", textangle=-90,
             font=dict(family=SERIF, size=24, color="#111", weight="bold")),
    ],
)

fig.write_html("out.html")
